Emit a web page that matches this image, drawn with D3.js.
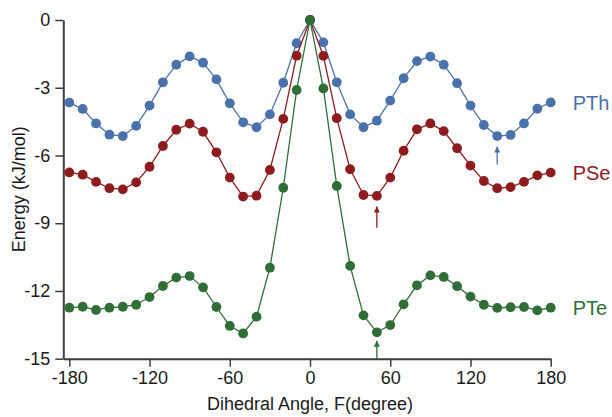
<!DOCTYPE html>
<html>
<head>
<meta charset="utf-8">
<script src="https://cdn.jsdelivr.net/npm/d3@7"></script>
<style>
  body { margin: 0; background: #fff; }
  text { font-family: "Liberation Sans", Arial, sans-serif; }
</style>
</head>
<body>
<div id="chart"></div>
<script>
// Dihedral angles (degree), every 10 from -180 to 180
var angles = d3.range(-180, 181, 10);

// Energy (kJ/mol)
var pth = [-3.66, -3.94, -4.58, -5.08, -5.14, -4.69, -3.79, -2.76, -1.98, -1.61, -1.89, -2.63, -3.69, -4.53, -4.75, -4.18, -2.78, -1.03,
  0, -0.99, -2.76, -4.18, -4.75, -4.46, -3.57, -2.58, -1.82, -1.62, -1.98, -2.80, -3.79, -4.65, -5.14, -5.09, -4.58, -3.93, -3.65];
var pse = [-6.75, -6.85, -7.17, -7.45, -7.50, -7.19, -6.50, -5.58, -4.86, -4.59, -4.95, -5.86, -6.98, -7.82, -7.78, -6.64, -4.38, -1.58,
  0, -1.59, -4.35, -6.61, -7.75, -7.79, -6.98, -5.79, -4.84, -4.58, -4.92, -5.68, -6.45, -7.13, -7.45, -7.40, -7.17, -6.88, -6.76];
var pte = [-12.74, -12.70, -12.84, -12.74, -12.70, -12.61, -12.27, -11.78, -11.41, -11.34, -11.84, -12.71, -13.55, -13.88, -13.14, -10.97, -7.43, -3.10,
  0, -3.03, -7.35, -10.89, -13.08, -13.83, -13.51, -12.59, -11.75, -11.31, -11.38, -11.79, -12.25, -12.61, -12.75, -12.72, -12.71, -12.86, -12.74];

var seriesNames = ["PTh", "PSe", "PTe"];
var seriesColors = ["#4a72aa", "#8e1b1d", "#2f6f37"];
// angle of the minimum marked with an arrow, and the arrow's ends (energy)
var arrowAngles = [140, 50, 50];
var arrowFrom = [-6.4, -9.2, -15];
var arrowTo = [-5.6, -8.26, -14.2];

var xTicks = [-180, -120, -60, 0, 60, 120, 180];
var yTicks = [0, -3, -6, -9, -12, -15];

var svgWidth = 612;
var svgHeight = 417;

var svg = d3.select("#chart")
  .append("svg")
  .attr("width", svgWidth)
  .attr("height", svgHeight);

// Scales (a little room before -180 so the first point sits off the y axis)
var x = d3.scaleLinear().domain([-184.5, 180]).range([63.3, 550.7]);
var y = d3.scaleLinear().domain([-15, 0]).range([358.7, 20]);

var axisColor = "#3d3d3d";
// plain hyphen for negatives, like the original
var fmt = function(d) { return String(d); };

// Axes
var xAxis = svg.append("g")
  .attr("transform", "translate(0," + y(-15) + ")")
  .call(d3.axisBottom(x).tickValues(xTicks).tickFormat(fmt).tickSizeOuter(0).tickSizeInner(8).tickPadding(5));

var yAxis = svg.append("g")
  .attr("transform", "translate(" + x(-184.5) + ",0)")
  .call(d3.axisLeft(y).tickValues(yTicks).tickFormat(fmt).tickSizeOuter(0).tickSizeInner(8).tickPadding(5));

[xAxis, yAxis].forEach(function(g) {
  g.select(".domain").attr("stroke", axisColor).attr("stroke-width", 2);
  g.selectAll(".tick line").attr("stroke", axisColor).attr("stroke-width", 1.5);
  g.selectAll(".tick text")
    .attr("fill", "#1a1a1a")
    .style("font-size", "18px")
    .style("font-family", "'Liberation Sans', Arial, sans-serif");
});

// Arrow head marker per colour
var defs = svg.append("defs");
seriesColors.forEach(function(c, i) {
  defs.append("marker")
    .attr("id", "arrow" + i)
    .attr("viewBox", "0 0 10 10")
    .attr("refX", 10)
    .attr("refY", 5)
    .attr("markerWidth", 7)
    .attr("markerHeight", 6)
    .attr("markerUnits", "userSpaceOnUse")
    .attr("orient", "auto")
    .append("path")
    .attr("d", "M0,0 L10,5 L0,10 Z")
    .attr("fill", c);
});

var line = d3.line()
  .x(function(d) { return x(d.a); })
  .y(function(d) { return y(d.e); });

[pth, pse, pte].forEach(function(vals, i) {
  var data = angles.map(function(a, k) { return { a: a, e: vals[k] }; });
  var g = svg.append("g");

  g.append("path")
    .datum(data)
    .attr("d", line)
    .attr("fill", "none")
    .attr("stroke", seriesColors[i])
    .attr("stroke-width", 1.3);

  g.selectAll("circle")
    .data(data)
    .enter()
    .append("circle")
    .attr("cx", function(d) { return x(d.a); })
    .attr("cy", function(d) { return y(d.e); })
    .attr("r", 4.9)
    .attr("fill", seriesColors[i]);

  // series label at the right end
  g.append("text")
    .attr("x", x(180) + 22)
    .attr("y", y(vals[vals.length - 1]))
    .attr("dy", "0.36em")
    .attr("fill", seriesColors[i])
    .style("font-size", "20px")
    .text(seriesNames[i]);

  // arrow pointing at the minimum
  g.append("line")
    .attr("x1", x(arrowAngles[i]))
    .attr("x2", x(arrowAngles[i]))
    .attr("y1", y(arrowFrom[i]))
    .attr("y2", y(arrowTo[i]))
    .attr("stroke", seriesColors[i])
    .attr("stroke-width", 1.3)
    .attr("marker-end", "url(#arrow" + i + ")");
});

// Axis titles
svg.append("text")
  .attr("x", x(0))
  .attr("y", 410)
  .attr("text-anchor", "middle")
  .attr("fill", "#1a1a1a")
  .style("font-size", "18px")
  .text("Dihedral Angle, F(degree)");

svg.append("text")
  .attr("transform", "rotate(-90)")
  .attr("x", -(y(0) + y(-15)) / 2)
  .attr("y", 25)
  .attr("text-anchor", "middle")
  .attr("fill", "#1a1a1a")
  .style("font-size", "18px")
  .text("Energy (kJ/mol)");
</script>
</body>
</html>
